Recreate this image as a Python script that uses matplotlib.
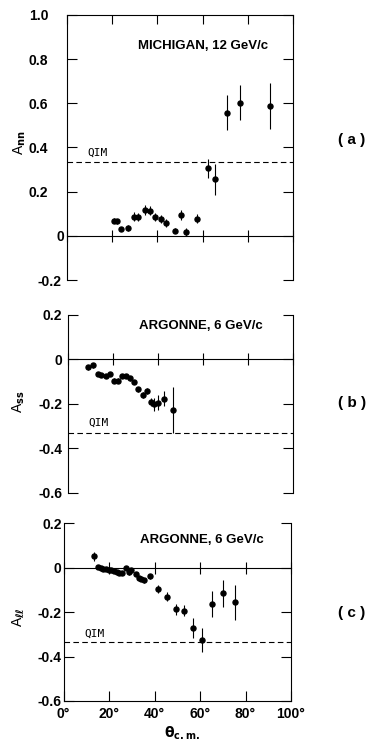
import numpy as np
import matplotlib
matplotlib.use("Agg")
import matplotlib.pyplot as plt

plt.rcParams['font.family'] = ['Liberation Sans', 'DejaVu Sans']
plt.rcParams['font.weight'] = 'bold'
plt.rcParams['mathtext.fontset'] = 'dejavusans'

# (a) Michigan, 12 GeV/c
a_theta = [20.6, 22.2, 23.9, 27.0, 29.5, 31.5, 34.6, 36.8, 38.8, 41.8,
           43.6, 47.6, 50.5, 52.6, 57.5, 62.6, 65.4, 70.7, 76.5, 89.8]
a_val = [0.069, 0.065, 0.032, 0.036, 0.086, 0.086, 0.116, 0.113, 0.087, 0.077,
         0.056, 0.023, 0.094, 0.017, 0.077, 0.305, 0.256, 0.558, 0.603, 0.588]
a_err = [0.010, 0.010, 0.010, 0.012, 0.020, 0.018, 0.023, 0.020, 0.018, 0.018,
         0.018, 0.012, 0.022, 0.020, 0.020, 0.045, 0.070, 0.080, 0.080, 0.105]

# (b) Argonne, 6 GeV/c, A_ss
b_theta = [8.9, 11.2, 13.3, 15.0, 16.8, 18.7, 20.7, 22.5, 24.2, 26.0,
           27.9, 29.6, 31.2, 33.3, 35.2, 36.9, 38.4, 40.3, 42.6, 46.7]
b_val = [-0.036, -0.027, -0.065, -0.072, -0.075, -0.066, -0.096, -0.096, -0.074, -0.075,
         -0.086, -0.102, -0.135, -0.162, -0.143, -0.192, -0.202, -0.195, -0.177, -0.228]
b_err = [0.012, 0.010, 0.008, 0.008, 0.008, 0.008, 0.010, 0.010, 0.010, 0.010,
         0.010, 0.010, 0.012, 0.014, 0.014, 0.020, 0.030, 0.035, 0.035, 0.103]

# (c) Argonne, 6 GeV/c, A_ll
c_theta = [13.2, 15.0, 16.3, 17.5, 18.7, 19.9, 21.0, 22.2, 23.4, 24.5,
           25.7, 27.6, 28.6, 29.6, 31.8, 33.2, 34.2, 35.6, 38.1, 41.6,
           45.7, 49.4, 53.0, 57.1, 61.0, 65.4, 70.3, 75.5]
c_val = [0.051, 0.003, -0.002, -0.005, -0.005, -0.008, -0.012, -0.015, -0.021, -0.024,
         -0.024, -0.002, -0.020, -0.010, -0.030, -0.045, -0.053, -0.057, -0.039, -0.097,
         -0.130, -0.188, -0.193, -0.272, -0.325, -0.162, -0.115, -0.155]
c_err = [0.020, 0.006, 0.006, 0.006, 0.006, 0.006, 0.006, 0.006, 0.006, 0.006,
         0.006, 0.008, 0.012, 0.008, 0.008, 0.008, 0.008, 0.010, 0.012, 0.018,
         0.020, 0.025, 0.025, 0.045, 0.055, 0.058, 0.060, 0.079]

qim = [1 / 3, -1 / 3, -1 / 3]

x_ticks = [0, 20, 40, 60, 80, 100]
x_labels = ['0°', '20°', '40°', '60°', '80°', '100°']
a_yticks = [-0.2, 0, 0.2, 0.4, 0.6, 0.8, 1.0]
a_ylabels = ['-0.2', '0', '0.2', '0.4', '0.6', '0.8', '1.0']
bc_yticks = [-0.6, -0.4, -0.2, 0, 0.2]
bc_ylabels = ['-0.6', '-0.4', '-0.2', '0', '0.2']

fig = plt.figure(figsize=(3.75, 7.44), dpi=100)
ax_a = fig.add_axes([67 / 375, 1 - 280 / 744, 226 / 375, 265 / 744])
ax_b = fig.add_axes([67.7 / 375, 1 - 492.5 / 744, 225 / 375, 177.5 / 744])
ax_c = fig.add_axes([63.5 / 375, 1 - 701 / 744, 227.5 / 375, 177.7 / 744])

panels = [
    (ax_a, a_theta, a_val, a_err, qim[0], a_yticks, a_ylabels, (-0.2, 1.0),
     r'A$_{\mathbf{nn}}$', 'MICHIGAN, 12 GeV/c', (60, 0.86), (9, 0.375), (-0.173, 0.517)),
    (ax_b, b_theta, b_val, b_err, qim[1], bc_yticks, bc_ylabels, (-0.6, 0.2),
     r'A$_{\mathbf{ss}}$', 'ARGONNE, 6 GeV/c', (59, 0.15), (9, -0.287), (-0.181, 0.51)),
    (ax_c, c_theta, c_val, c_err, qim[2], bc_yticks, bc_ylabels, (-0.6, 0.2),
     r'A$_{\ell\ell}$', 'ARGONNE, 6 GeV/c', (61, 0.123), (9.2, -0.297), (-0.16, 0.47)),
]

for ax, th, v, e, q, yt, yl, ylim, ylab, title, tpos, qpos, lpos in panels:
    ax.errorbar(th, v, yerr=e, fmt='o', color='black', ms=3.6, elinewidth=0.8,
                capsize=0, zorder=3)
    ax.axhline(q, color='black', lw=0.8, ls=(0, (5, 3)))
    ax.set_xlim(0, 100)
    ax.set_ylim(*ylim)
    ax.set_yticks(yt, labels=yl)
    ax.tick_params(axis='y', which='both', direction='in', length=7, width=0.8,
                   left=True, right=True, labelsize=10, pad=4)
    for s in ['left', 'right', 'top', 'bottom']:
        ax.spines[s].set_linewidth(0.8)
    ax.spines['top'].set_visible(False)
    ax.spines['bottom'].set_visible(False)
    ax.set_xticks(x_ticks)
    ax.tick_params(axis='x', bottom=False, top=False, labelbottom=False)

    # zero line with crossing ticks
    zero = ax.secondary_xaxis(0, transform=ax.transData)
    zero.set_xticks(x_ticks)
    zero.tick_params(direction='inout', length=8.5, width=0.8,
                     labeltop=False, labelbottom=False)
    for s in zero.spines.values():
        s.set_linewidth(0.8)

    ax.text(tpos[0], tpos[1], title, ha='center', va='center', fontsize=9.5)
    ax.text(qpos[0], qpos[1], 'QIM', ha='left', va='center', fontsize=8,
            family='DejaVu Sans Mono', weight='normal')
    ax.set_ylabel(ylab, fontsize=10)
    ax.yaxis.set_label_coords(lpos[0], lpos[1])

# panel (a): top frame with ticks, hand-placed tick labels
ax_a.spines['top'].set_visible(True)
ax_a.tick_params(axis='x', top=True, direction='in', length=6.5, width=0.8)
for tick, val in zip(ax_a.yaxis.get_major_ticks(), a_yticks):
    if val > 0:
        tick.set_pad(13.5)
    elif val == 0:
        tick.set_pad(2)

# panel (c): bottom axis with labels
ax_c.spines['bottom'].set_visible(True)
ax_c.set_xticks(x_ticks, labels=x_labels)
ax_c.tick_params(axis='x', bottom=True, labelbottom=True, direction='in',
                 length=7, width=0.8, labelsize=10, pad=4)
ax_c.set_xlabel(r'$\mathbf{\theta_{c.m.}}$', fontsize=10)
ax_c.xaxis.set_label_coords(0.52, -0.13)

for tick in ax_c.yaxis.get_major_ticks():
    tick.set_pad(1.5)

fig.text(0.939, 0.812, '( a )', ha='center', va='center', fontsize=11)
fig.text(0.939, 0.458, '( b )', ha='center', va='center', fontsize=11)
fig.text(0.939, 0.176, '( c )', ha='center', va='center', fontsize=11)

fig.savefig('out.png', dpi=100)
